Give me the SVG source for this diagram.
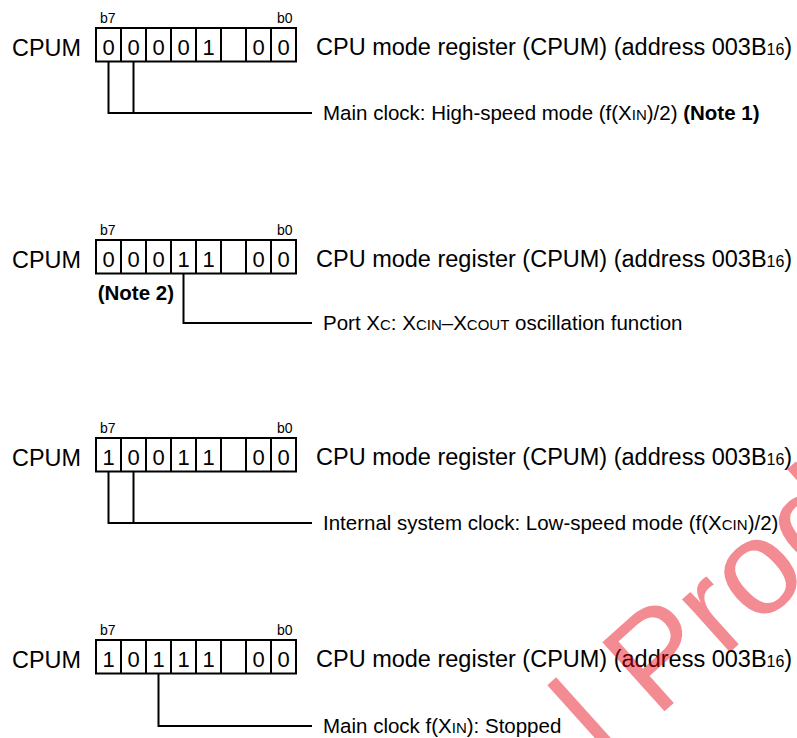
<svg xmlns="http://www.w3.org/2000/svg" width="797" height="738" viewBox="0 0 797 738">
<defs>
<style>
text{font-family:"Liberation Sans",Arial,sans-serif;fill:#000}
.lbl{font-size:23.4px}
.bit{font-size:14px}
.dg{font-size:22px;text-anchor:middle}
.reg{font-size:23.5px}
.desc{font-size:20.5px}
.sc{font-size:15px}
.reg .sc{font-size:16px}
.note{font-weight:bold}
.box{fill:#fff;stroke:#000;stroke-width:2}
.div{stroke:#000;stroke-width:2}
.con{fill:none;stroke:#000;stroke-width:2}
.wm{font-family:"Liberation Sans",Arial,sans-serif;font-size:135px;fill:#e60012;opacity:0.45}
</style>
<g id="cells">
<rect class="box" x="96" y="28" width="200" height="33.5"/>
<path class="div" d="M121 28V61.5M146 28V61.5M171 28V61.5M196 28V61.5M221 28V61.5M246 28V61.5M271 28V61.5"/>
</g>
</defs>

<g id="reg1">
<text class="lbl" x="12" y="55.5">CPUM</text>
<text class="bit" x="100" y="22.7">b7</text>
<text class="bit" x="277" y="22.7">b0</text>
<use href="#cells"/>
<text class="dg" y="55"><tspan x="108.5">0</tspan><tspan x="133.5">0</tspan><tspan x="158.5">0</tspan><tspan x="183.5">0</tspan><tspan x="208.5">1</tspan><tspan x="258.5">0</tspan><tspan x="283.5">0</tspan></text>
<text class="reg" x="316" y="55">CPU mode register (CPUM) (address 003B<tspan class="sc">16</tspan>)</text>
</g>
<g id="desc1">
<text class="desc" x="323" y="120">Main clock: High-speed mode (f(X<tspan class="sc">IN</tspan>)/2) <tspan class="note">(Note 1)</tspan></text>
</g>

<g id="reg2">
<text class="lbl" x="12" y="267.5">CPUM</text>
<text class="bit" x="100" y="234.7">b7</text>
<text class="bit" x="277" y="234.7">b0</text>
<use href="#cells" y="212"/>
<text class="dg" y="267"><tspan x="108.5">0</tspan><tspan x="133.5">0</tspan><tspan x="158.5">0</tspan><tspan x="183.5">1</tspan><tspan x="208.5">1</tspan><tspan x="258.5">0</tspan><tspan x="283.5">0</tspan></text>
<text class="reg" x="316" y="267">CPU mode register (CPUM) (address 003B<tspan class="sc">16</tspan>)</text>
<text class="desc note" x="97.7" y="300">(Note 2)</text>
</g>
<g id="desc2">
<text class="desc" x="323" y="330">Port X<tspan class="sc">C</tspan>: X<tspan class="sc">CIN</tspan>–X<tspan class="sc">COUT</tspan> oscillation function</text>
</g>

<g id="reg3">
<text class="lbl" x="12" y="465.5">CPUM</text>
<text class="bit" x="100" y="432.7">b7</text>
<text class="bit" x="277" y="432.7">b0</text>
<use href="#cells" y="410"/>
<text class="dg" y="465"><tspan x="108.5">1</tspan><tspan x="133.5">0</tspan><tspan x="158.5">0</tspan><tspan x="183.5">1</tspan><tspan x="208.5">1</tspan><tspan x="258.5">0</tspan><tspan x="283.5">0</tspan></text>
<text class="reg" x="316" y="465">CPU mode register (CPUM) (address 003B<tspan class="sc">16</tspan>)</text>
</g>
<g id="desc3">
<text class="desc" x="323" y="530">Internal system clock: Low-speed mode (f(X<tspan class="sc">CIN</tspan>)/2)</text>
</g>

<g id="reg4">
<text class="lbl" x="12" y="667.5">CPUM</text>
<text class="bit" x="100" y="634.7">b7</text>
<text class="bit" x="277" y="634.7">b0</text>
<use href="#cells" y="612"/>
<text class="dg" y="667"><tspan x="108.5">1</tspan><tspan x="133.5">0</tspan><tspan x="158.5">1</tspan><tspan x="183.5">1</tspan><tspan x="208.5">1</tspan><tspan x="258.5">0</tspan><tspan x="283.5">0</tspan></text>
<text class="reg" x="316" y="667">CPU mode register (CPUM) (address 003B<tspan class="sc">16</tspan>)</text>
</g>
<g id="desc4">
<text class="desc" x="323" y="733">Main clock f(X<tspan class="sc">IN</tspan>): Stopped</text>
</g>

<g id="connectors">
<path class="con" d="M108.5 61.5V113H312M133.5 61.5V113"/>
<path class="con" d="M183.5 273.5V323H312"/>
<path class="con" d="M108.5 471.5V523H312M133.5 471.5V523"/>
<path class="con" d="M158.5 673.5V726H312"/>
</g>

<g id="watermark">
<text class="wm" transform="translate(606,764) rotate(-42)">l Produ</text>
</g>
</svg>
